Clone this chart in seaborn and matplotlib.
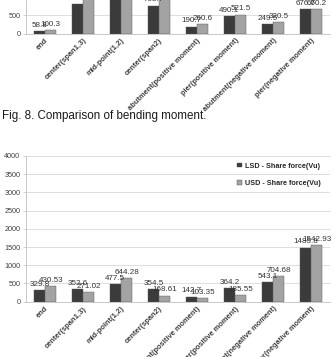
import pandas as pd
import seaborn as sns
import matplotlib.pyplot as plt

# category names (same for both charts)
positions = ['end', 'center(span1,3)', 'mid-point(1,2)', 'center(span2)',
             'abutment(positive moment)', 'pier(positive moment)',
             'abutment(negative moment)', 'pier(negative moment)']

# Fig. 8 - bending moment (only lower part visible)
bm_lsd = [58.8, 820, 1250, 768.7, 190.7, 490.1, 249.5, 676.7]
bm_usd = [100.3, 1100, 1300, 1050, 260.6, 521.5, 320.5, 660.2]

# share force
sf_lsd = [329.8, 352.6, 477.5, 354.5, 142.7, 364.2, 543.1, 1485.8]
sf_usd = [430.53, 271.02, 644.28, 168.61, 103.35, 185.55, 704.68, 1542.93]

series = ['LSD - Share force(Vu)', 'USD - Share force(Vu)']

sns.set_style('white')
plt.rcParams['font.family'] = ['Liberation Sans', 'DejaVu Sans']

fig = plt.figure(figsize=(3.35, 3.57), dpi=100)
W, H = 335, 357


def axes_px(left, top, right, bottom):
    return fig.add_axes([left / W, 1 - bottom / H, (right - left) / W, (bottom - top) / H])


def draw(ax, lsd, usd, ymax):
    df = pd.DataFrame({
        'pos': positions * 2,
        'val': lsd + usd,
        'ser': [series[0]] * len(lsd) + [series[1]] * len(usd),
    })
    sns.barplot(data=df, x='pos', y='val', hue='ser', ax=ax,
                palette=['#3b3b3b', '#a3a3a3'], width=0.6,
                edgecolor='#555555', linewidth=0.3, saturation=1)
    for c in ax.containers:
        labels = ['%g' % v for v in c.datavalues]
        ax.bar_label(c, labels=labels, padding=1.5, fontsize=5.8, color='#333333')
    ax.set_ylim(0, ymax)
    ax.set_xlim(-0.5, 7.5)
    ax.set_yticks(range(0, ymax + 1, 500))
    ax.yaxis.grid(True, color='#d9d9d9', linewidth=0.6)
    ax.set_axisbelow(True)
    ax.set_xlabel('')
    ax.set_ylabel('')
    for s in ['top', 'right']:
        ax.spines[s].set_visible(False)
    for s in ['left', 'bottom']:
        ax.spines[s].set_color('#bfbfbf')
        ax.spines[s].set_linewidth(0.6)
    ax.tick_params(axis='y', labelsize=5.2, labelcolor='#404040', length=2,
                   width=0.5, color='#bfbfbf', pad=2, left=True)
    ax.tick_params(axis='x', length=0, pad=2.5)
    ax.set_xticks(range(len(positions)))
    ax.set_xticklabels(positions, rotation=45, ha='right', rotation_mode='anchor',
                       fontsize=5.4, fontweight='bold', color='#404040')


ax1 = axes_px(26, 33.5 - 54.6, 330, 33.5)
draw(ax1, bm_lsd, bm_usd, 1500)
ax1.get_legend().remove()

ax2 = axes_px(26, 156, 330, 301.7)
draw(ax2, sf_lsd, sf_usd, 4000)
ax2.legend(loc='upper right', bbox_to_anchor=(0.99, 1.0), frameon=False,
           handlelength=0.6, handleheight=0.6, handletextpad=0.4,
           labelspacing=1.5, prop={'weight': 'bold', 'size': 5.2})

fig.text(2 / W, 1 - 116 / H, 'Fig. 8. Comparison of bending moment.',
         fontsize=8.4, va='center', ha='left', color='#1a1a1a')

fig.savefig('out.png', dpi=100)
